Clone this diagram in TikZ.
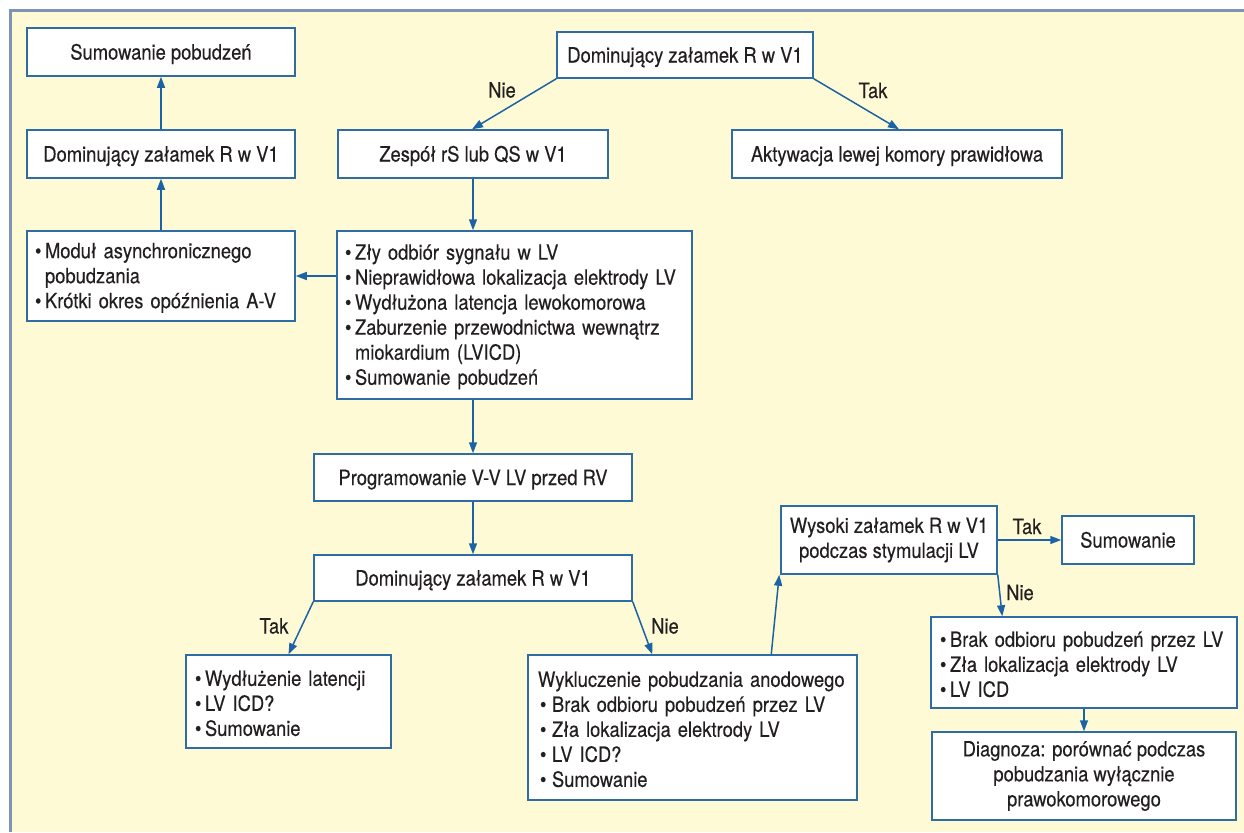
\documentclass[tikz,border=0pt]{standalone}
\usepackage{fontspec}
\setmainfont{TeX Gyre Heros}[FakeStretch=0.875,FakeBold=0.25]
\usetikzlibrary{arrows.meta,calc}
\definecolor{bgyellow}{HTML}{FEFAD6}
\definecolor{framecol}{HTML}{8192B8}
\definecolor{boxblue}{HTML}{2F6CA3}
\definecolor{arrblue}{HTML}{1C63A6}
\definecolor{txt}{HTML}{231F20}
\newcommand\bul[1]{\makebox[5pt][l]{•}#1}
\newcommand\bulw[1]{\hspace*{1pt}\makebox[6pt][l]{•}#1}
\begin{document}
\begin{tikzpicture}[x=0.5pt,y=-0.5pt,
  every node/.style={font=\fontsize{10.5}{12.5}\selectfont, text=txt},
  box/.style={draw=boxblue, line width=0.75pt, fill=white, inner sep=0pt, align=center},
  sbox/.style={draw=boxblue, line width=0.75pt, fill=white, inner sep=0pt, text height=9pt, text depth=1.5pt},
  lbox/.style={box, align=left, inner xsep=4pt, execute at begin node={\rule{0pt}{9.5pt}}},
  lab/.style={inner sep=0pt},
  arr/.style={draw=arrblue, line width=0.75pt, -{Triangle[length=5.5pt,width=4pt]}}]
\useasboundingbox (0,0) rectangle (1244,832);
\fill[white] (0,0) rectangle (1244,832);
\fill[bgyellow] (10,10) rectangle (1244,832);
\draw[framecol, line width=1.5pt] (10,832) -- (10,10.5) -- (1244,10.5);

\node[sbox, minimum width=134pt, minimum height=24pt] (sum1) at (161,52) {Sumowanie pobudzeń};
\node[sbox, minimum width=134pt, minimum height=24pt] (dom1) at (161,154) {Dominujący załamek R w V1};
\node[lbox, text width=126pt, minimum height=45pt] (mod) at (161,276)
  {\bul{Moduł asynchronicznego}\\\hspace*{5pt}pobudzania\\\bul{Krótki okres opóźnienia A-V}};
\node[sbox, minimum width=128pt, minimum height=23pt] (domtop) at (685,55) {Dominujący załamek R w V1};
\node[sbox, minimum width=135pt, minimum height=24pt] (zesp) at (473,154) {Zespół rS lub QS w V1};
\node[sbox, minimum width=165pt, minimum height=24pt] (akt) at (897,154) {Aktywacja lewej komory prawidłowa};
\node[lbox, text width=169.5pt, minimum height=84pt] (main) at (514.5,315)
  {\bul{Zły odbiór sygnału w LV}\\\bul{Nieprawidłowa lokalizacja elektrody LV}\\\bul{Wydłużona latencja lewokomorowa}\\\bul{Zaburzenie przewodnictwa wewnątrz}\\\hspace*{5pt}miokardium (LVICD)\\\bul{Sumowanie pobudzeń}};
\node[sbox, minimum width=159pt, minimum height=23.5pt] (prog) at (473,477.5) {Programowanie V-V LV przed RV};
\node[sbox, minimum width=159pt, minimum height=23pt] (dom3) at (473,578) {Dominujący załamek R w V1};
\node[lbox, inner xsep=4.5pt, text width=93.5pt, minimum height=46.5pt] (wyd) at (288.5,701.5)
  {\bul{Wydłużenie latencji}\\\bul{LV ICD?}\\\bul{Sumowanie}};
\node[lbox, inner xsep=5pt, text width=154.5pt, minimum height=72.5pt] (wyk) at (692.5,727.5)
  {Wykluczenie pobudzania anodowego\\\bulw{Brak odbioru pobudzeń przez LV}\\\bulw{Zła lokalizacja elektrody LV}\\\bulw{LV ICD?}\\\bulw{Sumowanie}};
\node[box, minimum width=108pt, minimum height=34pt] (wys) at (889,540) {Wysoki załamek R w V1\\podczas stymulacji LV};
\node[sbox, minimum width=66pt, minimum height=24pt] (sumr) at (1128,540) {Sumowanie};
\node[lbox, inner xsep=4.5pt, text width=144pt, minimum height=45.5pt] (brak) at (1084,662.5)
  {\bul{Brak odbioru pobudzeń przez LV}\\\bul{Zła lokalizacja elektrody LV}\\\bul{LV ICD}};
\node[box, minimum width=152pt, minimum height=44pt] (diag) at (1084,776) {Diagnoza: porównać podczas\\pobudzania wyłącznie\\prawokomorowego};

\draw[arr] (domtop.south west) -- ([xshift=-0.5pt]zesp.north);
\draw[arr] (domtop.south east) -- ([xshift=1pt]akt.north);
\draw[arr] (zesp.south) -- (zesp.south |- main.north);
\draw[arr] (main.west |- mod.east) -- (mod.east);
\draw[arr] (mod.north) -- (dom1.south);
\draw[arr] (dom1.north) -- (sum1.south);
\draw[arr] (main.south -| prog.north) -- (prog.north);
\draw[arr] (prog.south) -- (dom3.north);
\draw[arr] (dom3.south west) -- (wyd.north);
\draw[arr] (dom3.south east) -- ([xshift=62.5pt]wyk.north west);
\draw[arr] ([xshift=122pt]wyk.north west) -- ([xshift=-0.5pt]wys.south west);
\draw[arr] (wys.east) -- (sumr.west);
\draw[arr] (wys.south east) -- ([xshift=36pt]brak.north west);
\draw[arr] (brak.south -| diag.north) -- (diag.north);

\node[lab] (l1) at (502,90) {Nie};
\node[lab] (l2) at (873,90.5) {Tak};
\node[lab] (l3) at (274,626) {Tak};
\node[lab] (l4) at (665,626) {Nie};
\node[lab] (l5) at (1027,526.5) {Tak};
\node[lab] (l6) at (1020,592.5) {Nie};
\end{tikzpicture}
\end{document}
